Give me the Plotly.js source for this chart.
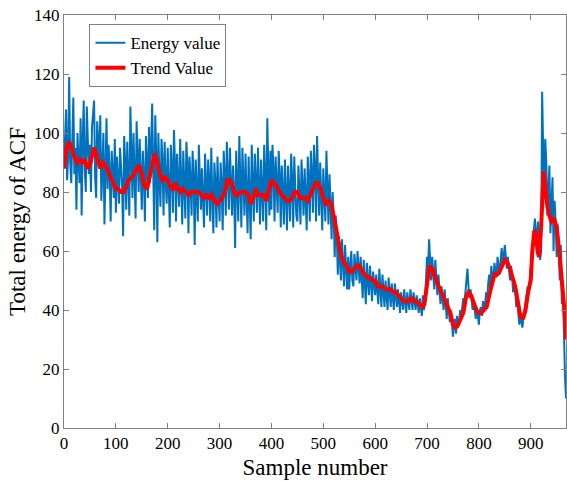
<!DOCTYPE html>
<html>
<head>
<meta charset="utf-8">
<script src="https://cdn.plot.ly/plotly-3.0.1.min.js"></script>
<style>html,body{margin:0;padding:0;background:#fff;}#chart{width:567px;height:481px;}</style>
</head>
<body>
<div id="chart"></div>
<script>
// Energy value: one reading every 2 samples (sample numbers 0, 2, 4, ... 968)
const energyStep = 2;
const energyValues = [
  88,96,108,84,92,119,90,83,104,112,86,95,74,100,91,83,105,72,97,111,88,80,109,92,86,
  96,80,102,108,111,85,78,104,97,90,106,77,88,100,69,94,105,81,96,87,70,94,83,78,98,
  73,92,84,76,95,88,82,65,99,90,74,97,86,72,109,95,78,100,89,71,104,92,80,98,85,
  74,94,86,70,99,90,78,102,83,95,110,88,67,106,92,63,100,85,75,98,90,72,97,84,76,
  95,82,68,96,88,73,101,90,70,93,84,75,98,87,69,94,80,71,97,89,66,92,84,72,94,
  85,62,91,80,70,96,86,74,88,79,68,93,82,72,91,84,70,95,78,66,90,83,68,92,80,
  70,90,82,67,94,85,72,97,88,74,95,86,72,89,80,61,94,83,70,99,87,68,95,81,72,
  93,82,66,92,79,64,96,85,70,93,81,73,95,84,69,91,80,70,96,86,67,105,88,72,94,
  74,96,87,70,92,83,73,94,85,68,89,80,69,91,82,67,89,78,70,93,84,68,92,81,72,
  70,89,80,69,91,83,72,88,79,67,92,84,70,94,86,73,96,88,70,99,85,72,90,80,67,
  88,78,70,94,83,69,86,75,64,80,72,58,72,65,52,65,58,50,64,55,48,62,54,47,58,
  47,55,60,50,48,59,53,50,60,54,49,58,52,44,57,50,42,56,48,45,55,49,43,53,47,
  45,52,47,42,54,48,41,52,46,41,50,45,40,51,46,41,49,44,40,49,45,41,47,43,39,
  46,42,40,47,43,39,46,42,40,47,44,40,46,42,40,45,41,39,44,41,38,45,40,42,50,
  58,54,64,57,50,58,53,47,57,51,45,52,47,42,48,44,40,47,42,37,44,39,36,40,36,
  31,35,37,32,38,34,36,40,37,41,44,42,47,50,54,48,44,47,43,40,43,39,37,41,38,
  35,40,41,38,43,40,42,46,44,49,52,47,55,51,50,56,53,51,58,54,52,57,61,55,58,
  62,58,54,58,55,50,55,52,46,50,47,41,43,39,35,38,36,34,38,40,42,45,48,46,50,
  54,58,62,66,71,66,64,70,62,57,60,114,95,80,98,90,72,84,89,66,80,85,60,77,70,
  58,69,62,50,62,42,48,30,18,10
];
const energySamples = energyValues.map((_, i) => i * energyStep);

// Trend value
const trendSamples = [
  0,5,10,15,20,25,30,35,40,45,50,55,58,62,66,70,75,80,85,90,95,
  100,105,110,115,120,125,130,135,140,145,150,155,160,165,170,175,180,185,190,195,
  200,205,210,215,220,225,230,235,240,245,250,255,260,265,270,275,280,285,290,295,
  300,305,310,315,320,325,330,335,340,345,350,355,360,365,370,375,380,385,390,395,
  400,405,410,415,420,425,430,435,440,445,450,455,460,465,470,475,480,485,490,495,
  500,505,510,515,520,525,530,535,540,545,550,555,560,565,570,575,580,585,590,595,
  600,605,610,615,620,625,630,635,640,645,650,655,660,665,670,675,680,685,690,695,
  700,705,710,715,720,725,730,735,740,745,750,755,760,765,770,775,780,785,790,795,
  800,805,810,815,820,825,830,835,840,845,850,855,860,865,870,875,880,885,890,895,
  900,903,907,910,913,916,920,925,928,932,936,940,945,950,955,960,965,968
];
const trendValues = [
  88,95,97,94,92,90,91,90,91,88,89,93,95,93,90,88,90,89,87,85,83,
  81,81,80,80,82,84,85,86,88,89,86,82,81,85,88,93,90,86,84,85,
  84,82,81,83,81,80,81,80,79,80,80,80,80,79,78,79,78,79,77,76,
  77,78,80,84,84,82,79,79,80,80,80,79,76,78,81,79,79,79,77,81,
  84,83,82,80,79,78,77,77,78,80,80,78,78,78,77,79,81,83,83,81,
  78,76,77,76,72,67,62,58,56,55,53,53,54,55,55,53,52,51,51,50,
  50,48,48,48,47,47,47,46,46,45,44,43,43,43,44,43,43,42,41,42,
  50,55,54,51,49,47,45,43,41,39,35,34,35,37,39,44,46,45,42,40,
  39,39,40,41,45,49,52,52,53,55,57,56,54,51,48,43,38,37,40,46,
  50,60,67,66,60,58,68,87,82,75,72,70,71,68,60,50,40,30
];

const xTicks = [0,100,200,300,400,500,600,700,800,900];
const yTicks = [0,20,40,60,80,100,120,140];

const serif = 'Liberation Serif, Times New Roman, serif';

const traces = [
  {x: energySamples, y: energyValues, type: 'scatter', mode: 'lines', name: 'Energy value',
   line: {color: '#0072BD', width: 2}},
  {x: trendSamples, y: trendValues, type: 'scatter', mode: 'lines', name: 'Trend Value',
   line: {color: '#FF0000', width: 4}}
];

const axisCommon = {
  showline: true, linecolor: '#808080', linewidth: 1, mirror: 'ticks',
  ticks: 'inside', ticklen: 5, tickcolor: '#808080', tickwidth: 1,
  showgrid: false, zeroline: false,
  tickfont: {family: serif, size: 17, color: '#000'}
};

const layout = {
  width: 567, height: 481,
  margin: {l: 63.5, r: 1, t: 15, b: 53},
  paper_bgcolor: '#fff', plot_bgcolor: '#fff',
  showlegend: true,
  legend: {x: 0.0507, y: 0.978, xanchor: 'left', yanchor: 'top',
    bgcolor: '#fff', bordercolor: '#808080', borderwidth: 1,
    font: {family: serif, size: 17, color: '#000'}, tracegroupgap: 0},
  xaxis: Object.assign({}, axisCommon, {range: [0, 968], tickvals: xTicks,
    title: {text: 'Sample number', font: {family: serif, size: 23, color: '#000'}, standoff: 6}}),
  yaxis: Object.assign({}, axisCommon, {range: [0, 140], tickvals: yTicks,
    title: {text: 'Total energy of ACF', font: {family: serif, size: 23, color: '#000'}, standoff: 2}})
};

Plotly.newPlot('chart', traces, layout, {displayModeBar: false, staticPlot: true});
</script>
</body>
</html>
